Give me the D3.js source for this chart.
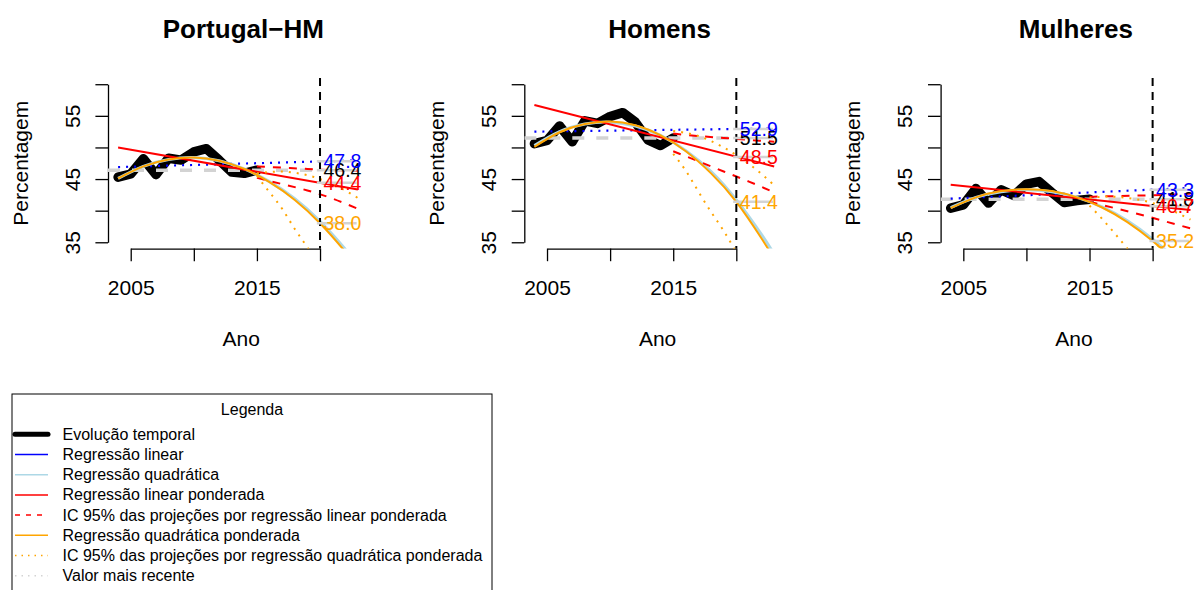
<!DOCTYPE html>
<html>
<head>
<meta charset="utf-8">
<script src="https://cdnjs.cloudflare.com/ajax/libs/d3/7.8.5/d3.min.js"></script>
<style>
body { margin: 0; background: #fff; }
svg { font-family: "Liberation Sans", Arial, Helvetica, sans-serif; }
</style>
</head>
<body>
<div id="chart"></div>
<script>
// titles / data
var titles = ["Portugal\u2212HM", "Homens", "Mulheres"];

var years = [2004, 2005, 2006, 2007, 2008, 2009, 2010, 2011, 2012, 2013, 2014, 2015];
var obsPT = [45.3, 45.8, 48.2, 45.7, 48.3, 48.0, 49.3, 49.8, 48.0, 46.1, 45.9, 46.4];
var obsH  = [50.6, 51.1, 53.4, 50.9, 54.2, 53.8, 54.9, 55.5, 54.0, 51.2, 50.3, 51.5];
var obsM  = [40.4, 40.9, 43.5, 41.2, 43.3, 42.4, 44.2, 44.6, 42.9, 41.3, 41.6, 41.8];

// straight regressions (linear, linear ponderada)
var lineYears = [2004, 2023];
var linPT = [46.9, 47.95];
var linH  = [52.5, 53.0];
var linM  = [41.9, 43.6];
var wlinPT = [50.0, 43.35];
var wlinH  = [56.7, 47.0];
var wlinM  = [44.1, 40.1];

// quadratic fits
var quadYears = [2004, 2006, 2008, 2010, 2012, 2014, 2016, 2018, 2020, 2022, 2023];
var quadPT  = [45.1, 47.0, 48.1, 48.4, 47.9, 46.6, 44.6, 41.9, 38.3, 33.9, 31.5];
var wquadPT = [45.1, 47.0, 48.1, 48.4, 47.9, 46.6, 44.5, 41.7, 38.0, 33.5, 31.0];
var quadH   = [50.3, 52.5, 53.7, 54.0, 53.4, 51.9, 49.5, 46.2, 41.7, 36.2, 33.1];
var wquadH  = [50.1, 52.4, 53.7, 54.1, 53.5, 51.9, 49.4, 45.9, 41.4, 35.6, 32.4];
var quadM   = [40.5, 42.1, 43.0, 43.3, 43.0, 42.1, 40.6, 38.4, 35.5, 32.0, 30.0];
var wquadM  = [40.4, 42.1, 43.1, 43.4, 43.1, 42.1, 40.5, 38.2, 35.2, 31.6, 29.5];

// IC 95% linear ponderada
var ciYears = [2015, 2017, 2019, 2021, 2023];
var wlinLoPT = [45.2, 44.2, 43.2, 41.9, 40.3];
var wlinHiPT = [47.0, 46.8, 46.6, 46.4, 46.3];
var wlinLoH  = [49.4, 47.8, 46.2, 44.6, 42.9];
var wlinHiH  = [52.2, 51.8, 51.5, 51.2, 50.9];
var wlinLoM  = [41.4, 40.4, 39.4, 38.3, 37.2];
var wlinHiM  = [42.2, 42.3, 42.4, 42.5, 42.7];

// IC 95% quadratica ponderada
var qciYears = [2015, 2016, 2017, 2018, 2019, 2020, 2021, 2022, 2023];
var wquadHiPT = [45.9, 46.1, 46.2, 46.0, 45.6, 45.0, 44.2, 43.2, 42.0];
var wquadLoPT = [45.5, 42.9, 40.3, 37.1, 34.2, 31.0];
var wquadHiH  = [52.6, 52.3, 51.8, 51.0, 50.0, 48.8, 47.4, 45.8, 44.0];
var wquadLoH  = [49.0, 46.3, 43.0, 39.8, 36.8, 33.4];
var wquadHiM  = [42.0, 42.2, 42.2, 42.0, 41.7, 41.2, 40.5, 39.6, 38.6];
var wquadLoM  = [40.8, 38.7, 36.4, 34.0, 31.5];

// valor mais recente
var recent = [46.4, 51.5, 41.8];
// projections shown at 2020: linear, recente, linear ponderada, quadratica ponderada
var projPT = [47.8, 46.4, 44.4, 38.0];
var projH  = [52.9, 51.5, 48.5, 41.4];
var projM  = [43.3, 41.8, 40.7, 35.2];
var projYear = 2020;

var xTicks = [2005, 2010, 2015, 2020];
var xTickLabels = [2005, 2015];
var yTicks = [35, 40, 45, 50, 55, 60];
var yTickLabels = [35, 45, 55];

var legendLabels = [
  "Evolução temporal",
  "Regressão linear",
  "Regressão quadrática",
  "Regressão linear ponderada",
  "IC 95% das projeções por regressão linear ponderada",
  "Regressão quadrática ponderada",
  "IC 95% das projeções por regressão quadrática ponderada",
  "Valor mais recente"
];

// ---- layout / styles
var W = 1200, H = 590;
var panelShift = 416.3;
var yTop = 77.9, yBottom = 248.6;
var xLim = [2003.2, 2024.8];
var projColors = ["blue", "black", "red", "orange"];
var legendStyle = [
  {c: "black", w: 5, d: null},
  {c: "blue", w: 1.5, d: null},
  {c: "lightblue", w: 1.5, d: null},
  {c: "red", w: 1.5, d: null},
  {c: "red", w: 1.5, d: "5,6"},
  {c: "orange", w: 1.5, d: null},
  {c: "orange", w: 1.5, d: "1.5,5"},
  {c: "lightgrey", w: 1.5, d: "1.5,5"}
];

var panels = [
  {obs: obsPT, lin: linPT, wlin: wlinPT, quad: quadPT, wquad: wquadPT, lo: wlinLoPT, hi: wlinHiPT, qlo: wquadLoPT, qhi: wquadHiPT, proj: projPT},
  {obs: obsH, lin: linH, wlin: wlinH, quad: quadH, wquad: wquadH, lo: wlinLoH, hi: wlinHiH, qlo: wquadLoH, qhi: wquadHiH, proj: projH},
  {obs: obsM, lin: linM, wlin: wlinM, quad: quadM, wquad: wquadM, lo: wlinLoM, hi: wlinHiM, qlo: wquadLoM, qhi: wquadHiM, proj: projM}
];

var svg = d3.select("#chart").append("svg")
  .attr("width", W)
  .attr("height", H);

svg.append("rect").attr("width", W).attr("height", H).attr("fill", "white");

var y = d3.scaleLinear().domain([34, 61]).range([yBottom, yTop]);

panels.forEach(function(p, i) {
  var ox = i * panelShift;
  var x = d3.scaleLinear().domain(xLim).range([108 + ox, 380.6 + ox]);
  var g = svg.append("g");

  g.append("clipPath").attr("id", "clip" + i)
    .append("rect")
    .attr("x", x(xLim[0])).attr("y", yTop)
    .attr("width", x(xLim[1]) - x(xLim[0]))
    .attr("height", yBottom - yTop);

  var line = d3.line()
    .x(function(d) { return x(d[0]); })
    .y(function(d) { return y(d[1]); });
  var curve = d3.line()
    .curve(d3.curveNatural)
    .x(function(d) { return x(d[0]); })
    .y(function(d) { return y(d[1]); });

  // axes (R style: lines span only the tick range)
  var ya = d3.scaleLinear().domain([35, 60]).range([y(35), y(60)]);
  var yAxis = g.append("g")
    .attr("transform", "translate(" + x(xLim[0]) + ",0)")
    .call(d3.axisLeft(ya).tickValues(yTicks).tickSize(12.6).tickSizeOuter(0)
      .tickFormat(function(d) { return yTickLabels.indexOf(d) >= 0 ? d : ""; }));
  yAxis.selectAll("text")
    .attr("x", 0).attr("y", -36).attr("dy", null)
    .attr("transform", "rotate(-90)")
    .attr("dominant-baseline", "central")
    .style("text-anchor", "middle");

  var xa = d3.scaleLinear().domain([2005, 2020]).range([x(2005), x(2020)]);
  var xAxis = g.append("g")
    .attr("transform", "translate(0," + yBottom + ")")
    .call(d3.axisBottom(xa).tickValues(xTicks).tickSize(12.6).tickSizeOuter(0).tickPadding(19)
      .tickFormat(function(d) { return xTickLabels.indexOf(d) >= 0 ? d : ""; }));

  [yAxis, xAxis].forEach(function(a) {
    a.attr("font-size", 21).attr("font-family", null);
    a.selectAll("path, line").attr("stroke", "black").attr("stroke-width", 1.3);
    a.selectAll("text").attr("fill", "black");
  });

  g.append("text")
    .attr("x", x(2014) - 1).attr("y", 38)
    .attr("text-anchor", "middle")
    .attr("font-size", 26).attr("font-weight", "bold")
    .text(titles[i]);

  g.append("text")
    .attr("x", x(2014) - 3).attr("y", 338)
    .attr("text-anchor", "middle").attr("dominant-baseline", "central")
    .attr("font-size", 21)
    .text("Ano");

  g.append("text")
    .attr("transform", "translate(" + (x(xLim[0]) - 88) + "," + y(47.5) + ") rotate(-90)")
    .attr("text-anchor", "middle").attr("dominant-baseline", "central")
    .attr("font-size", 21)
    .text("Percentagem");

  var plot = g.append("g").attr("clip-path", "url(#clip" + i + ")");

  // evolucao temporal
  plot.append("path")
    .datum(d3.zip(years, p.obs))
    .attr("d", line)
    .attr("fill", "none").attr("stroke", "black").attr("stroke-width", 9.5)
    .attr("stroke-linejoin", "round").attr("stroke-linecap", "round");

  // valor mais recente
  plot.append("path")
    .datum([[xLim[0], recent[i]], [projYear, recent[i]]])
    .attr("d", line)
    .attr("fill", "none").attr("stroke", "lightgrey").attr("stroke-width", 3.5)
    .attr("stroke-dasharray", "12,12");

  // regressao linear
  plot.append("path")
    .datum(d3.zip(lineYears, p.lin))
    .attr("d", line)
    .attr("fill", "none").attr("stroke", "blue").attr("stroke-width", 2.2)
    .attr("stroke-dasharray", "2,6");

  // regressao quadratica
  plot.append("path")
    .datum(d3.zip(quadYears, p.quad))
    .attr("d", curve)
    .attr("fill", "none").attr("stroke", "lightblue").attr("stroke-width", 3);

  // regressao linear ponderada + IC
  plot.append("path")
    .datum(d3.zip(lineYears, p.wlin))
    .attr("d", line)
    .attr("fill", "none").attr("stroke", "red").attr("stroke-width", 2);
  [p.lo, p.hi].forEach(function(s) {
    plot.append("path")
      .datum(d3.zip(ciYears, s))
      .attr("d", curve)
      .attr("fill", "none").attr("stroke", "red").attr("stroke-width", 2)
      .attr("stroke-dasharray", "8,8");
  });

  // regressao quadratica ponderada + IC
  plot.append("path")
    .datum(d3.zip(quadYears, p.wquad))
    .attr("d", curve)
    .attr("fill", "none").attr("stroke", "orange").attr("stroke-width", 2);
  [p.qlo, p.qhi].forEach(function(s) {
    plot.append("path")
      .datum(d3.zip(qciYears.slice(0, s.length), s))
      .attr("d", curve)
      .attr("fill", "none").attr("stroke", "orange").attr("stroke-width", 2)
      .attr("stroke-dasharray", "2,6");
  });

  // ano de projecao
  g.append("line")
    .attr("x1", x(projYear)).attr("x2", x(projYear))
    .attr("y1", yTop).attr("y2", yBottom)
    .attr("stroke", "black").attr("stroke-width", 2)
    .attr("stroke-dasharray", "8,6");

  // projected values
  var order = [1, 0, 2, 3];
  order.forEach(function(k) {
    g.append("line")
      .attr("x1", x(2019.75)).attr("x2", x(2022.9))
      .attr("y1", y(p.proj[k])).attr("y2", y(p.proj[k]))
      .attr("stroke", "lightgrey").attr("stroke-width", 2.5);
  });
  order.forEach(function(k) {
    g.append("text")
      .attr("x", x(projYear) + 3.5).attr("y", y(p.proj[k]))
      .attr("dominant-baseline", "central")
      .attr("font-size", 19.5)
      .attr("fill", projColors[k])
      .text(p.proj[k].toFixed(1));
  });
});

// legend
var lg = svg.append("g");
lg.append("rect")
  .attr("x", 12).attr("y", 394).attr("width", 480).attr("height", 220)
  .attr("fill", "white").attr("stroke", "black").attr("stroke-width", 1);
lg.append("text")
  .attr("x", 252).attr("y", 409)
  .attr("text-anchor", "middle").attr("dominant-baseline", "central")
  .attr("font-size", 16)
  .text("Legenda");

legendLabels.forEach(function(lab, k) {
  var yy = 434.3 + k * 20.2;
  var s = legendStyle[k];
  lg.append("line")
    .attr("x1", 15).attr("x2", 48).attr("y1", yy).attr("y2", yy)
    .attr("stroke", s.c).attr("stroke-width", s.w)
    .attr("stroke-dasharray", s.d)
    .attr("stroke-linecap", k == 0 ? "round" : "butt");
  lg.append("text")
    .attr("x", 62.5).attr("y", yy)
    .attr("dominant-baseline", "central")
    .attr("font-size", 16)
    .text(lab);
});
</script>
</body>
</html>
